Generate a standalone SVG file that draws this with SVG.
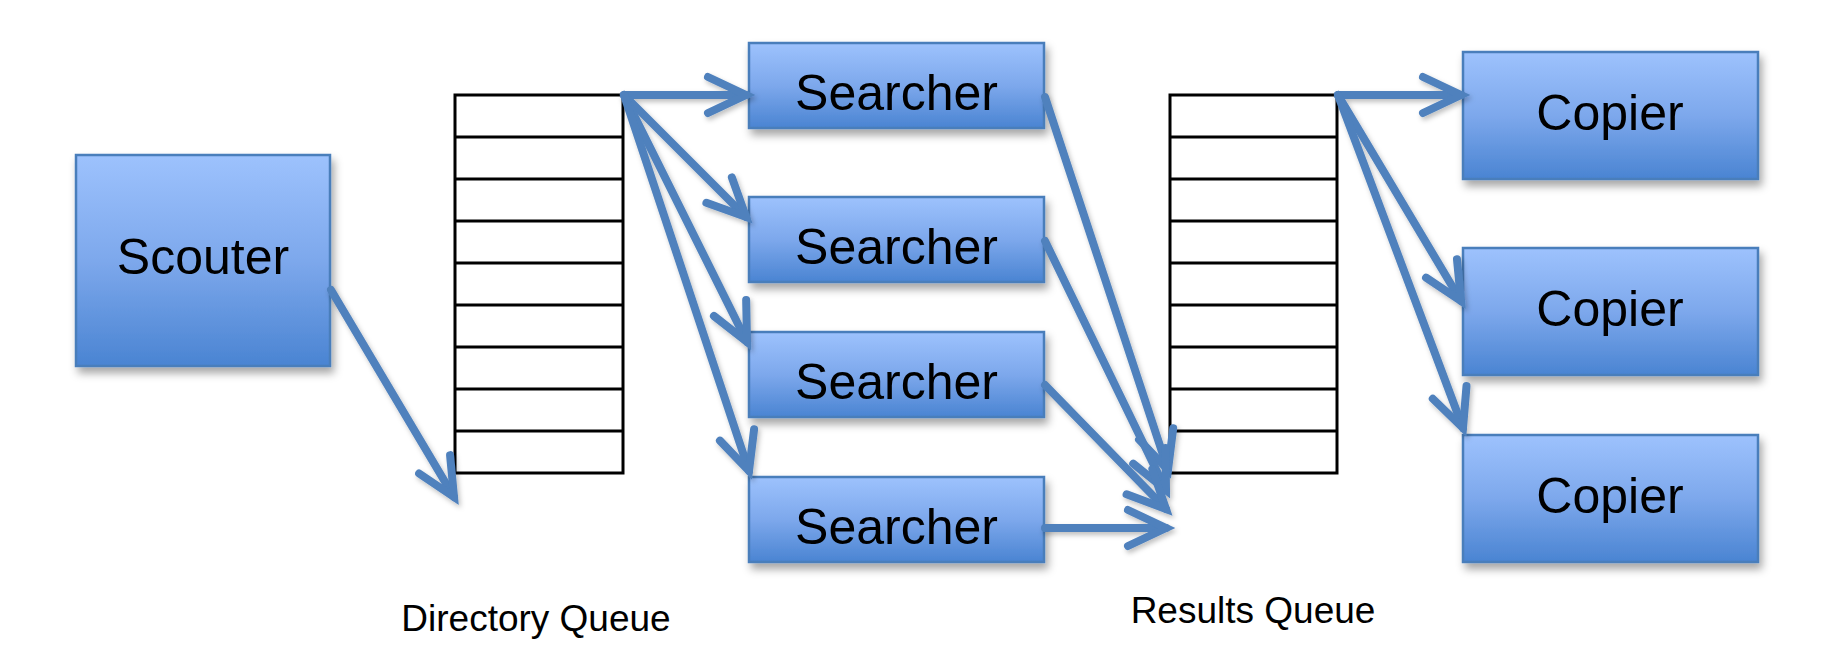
<svg xmlns="http://www.w3.org/2000/svg" width="1840" height="649" viewBox="0 0 1840 649">
<defs>
<linearGradient id="boxg" x1="0" y1="0" x2="0" y2="1">
<stop offset="0" stop-color="#9DC2FD"/>
<stop offset="0.5" stop-color="#7DA8EC"/>
<stop offset="1" stop-color="#4A84D2"/>
</linearGradient>
<filter id="shadow" x="-10%" y="-10%" width="130%" height="140%">
<feDropShadow dx="3" dy="6" stdDeviation="4" flood-color="#000" flood-opacity="0.35"/>
</filter>
<filter id="lshadow" x="-20%" y="-20%" width="140%" height="140%">
<feDropShadow dx="2" dy="3" stdDeviation="2.5" flood-color="#000" flood-opacity="0.25"/>
</filter>
<marker id="ah" markerUnits="userSpaceOnUse" markerWidth="80" markerHeight="80" refX="0" refY="0" orient="auto" overflow="visible">
<path d="M-38,-18 L0,0 L-38,18" fill="none" stroke="#4F81BD" stroke-width="8" stroke-linecap="round" stroke-linejoin="miter"/>
</marker>
</defs>
<style>
.box{fill:url(#boxg);stroke:#4A7EBB;stroke-width:2.5;filter:url(#shadow)}
.lbl{font-family:"Liberation Sans",Arial,sans-serif;font-size:50px;fill:#000;text-anchor:middle}
.cap{font-family:"Liberation Sans",Arial,sans-serif;font-size:37px;fill:#000;text-anchor:middle}
.q{fill:#fff;stroke:#000;stroke-width:3}
.qr{stroke:#000;stroke-width:3}
.c{fill:none;stroke:#4F81BD;stroke-width:8;stroke-linecap:round;marker-end:url(#ah)}
</style>
<rect width="1840" height="649" fill="#fff"/>

<g id="scouter">
<rect class="box" x="76" y="155" width="254" height="211"/>
<text class="lbl" x="203" y="274">Scouter</text>
</g>

<g id="directory-queue">
<rect class="q" x="455" y="95" width="168" height="378"/>
<line class="qr" x1="455" y1="137" x2="623" y2="137"/>
<line class="qr" x1="455" y1="179" x2="623" y2="179"/>
<line class="qr" x1="455" y1="221" x2="623" y2="221"/>
<line class="qr" x1="455" y1="263" x2="623" y2="263"/>
<line class="qr" x1="455" y1="305" x2="623" y2="305"/>
<line class="qr" x1="455" y1="347" x2="623" y2="347"/>
<line class="qr" x1="455" y1="389" x2="623" y2="389"/>
<line class="qr" x1="455" y1="431" x2="623" y2="431"/>
<text class="cap" x="536" y="631">Directory Queue</text>
</g>

<g id="searcher1">
<rect class="box" x="749" y="43" width="295" height="85"/>
<text class="lbl" x="896.5" y="110">Searcher</text>
</g>
<g id="searcher2">
<rect class="box" x="749" y="197" width="295" height="85"/>
<text class="lbl" x="896.5" y="264">Searcher</text>
</g>
<g id="searcher3">
<rect class="box" x="749" y="332" width="295" height="85"/>
<text class="lbl" x="896.5" y="399">Searcher</text>
</g>
<g id="searcher4">
<rect class="box" x="749" y="477" width="295" height="85"/>
<text class="lbl" x="896.5" y="544">Searcher</text>
</g>

<g id="results-queue">
<rect class="q" x="1170" y="95" width="167" height="378"/>
<line class="qr" x1="1170" y1="137" x2="1337" y2="137"/>
<line class="qr" x1="1170" y1="179" x2="1337" y2="179"/>
<line class="qr" x1="1170" y1="221" x2="1337" y2="221"/>
<line class="qr" x1="1170" y1="263" x2="1337" y2="263"/>
<line class="qr" x1="1170" y1="305" x2="1337" y2="305"/>
<line class="qr" x1="1170" y1="347" x2="1337" y2="347"/>
<line class="qr" x1="1170" y1="389" x2="1337" y2="389"/>
<line class="qr" x1="1170" y1="431" x2="1337" y2="431"/>
<text class="cap" x="1253" y="623">Results Queue</text>
</g>

<g id="copier1">
<rect class="box" x="1463" y="52" width="295" height="127"/>
<text class="lbl" x="1610" y="130">Copier</text>
</g>
<g id="copier2">
<rect class="box" x="1463" y="248" width="295" height="127"/>
<text class="lbl" x="1610" y="326">Copier</text>
</g>
<g id="copier3">
<rect class="box" x="1463" y="435" width="295" height="127"/>
<text class="lbl" x="1610" y="513">Copier</text>
</g>

<g id="connectors" filter="url(#lshadow)">
<line class="c" x1="331" y1="290" x2="454" y2="497"/>
<line class="c" x1="624" y1="95" x2="746" y2="95"/>
<line class="c" x1="624" y1="95" x2="746" y2="217"/>
<line class="c" x1="624" y1="95" x2="747" y2="342"/>
<line class="c" x1="624" y1="95" x2="749" y2="471"/>
<line class="c" x1="1045" y1="97" x2="1168" y2="470"/>
<line class="c" x1="1045" y1="241" x2="1166" y2="490"/>
<line class="c" x1="1045" y1="385" x2="1166" y2="509"/>
<line class="c" x1="1045" y1="528" x2="1166" y2="528"/>
<line class="c" x1="1338" y1="95" x2="1461" y2="95"/>
<line class="c" x1="1338" y1="95" x2="1461" y2="301"/>
<line class="c" x1="1338" y1="95" x2="1463" y2="428"/>
</g>
</svg>
